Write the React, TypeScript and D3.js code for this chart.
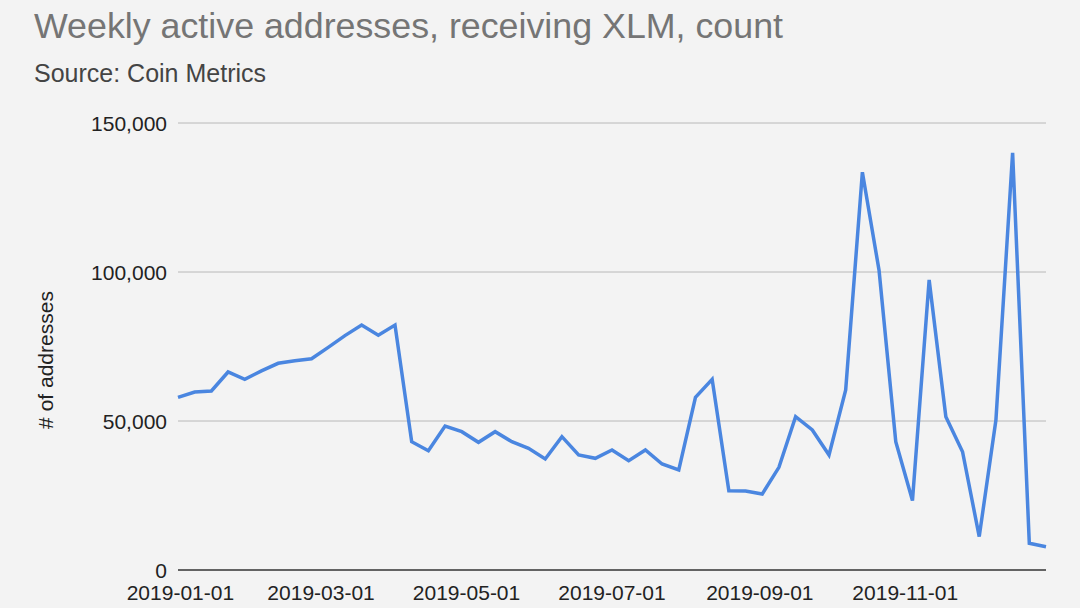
import * as d3 from "d3";
import { useEffect, useRef } from "react";

// weekly points, Mondays from 2018-12-31 to 2019-12-30
const weeks: Date[] = d3.timeMonday.range(new Date(2018, 11, 31), new Date(2019, 11, 31));

const addresses: number[] = [
  57950, 59740, 60070, 66450, 64000, 66800, 69360, 70250, 70900, 74700,
  78650, 82200, 78760, 82200, 43050, 40040, 48330, 46420, 42850, 46420,
  43050, 40830, 37250, 44740, 38590, 37480, 40270, 36690, 40270, 35570,
  33560, 57950, 64000, 26620, 26500, 25500, 34460, 51450, 46980, 38590,
  60400, 133500, 100500, 43050, 23300, 97320, 51450, 39700, 11200, 50340,
  140000, 8950, 7830,
];

const xTickLabels = ["2019-01-01", "2019-03-01", "2019-05-01", "2019-07-01", "2019-09-01", "2019-11-01"];
const yTicks = [0, 50000, 100000, 150000];

const title = "Weekly active addresses, receiving XLM, count";
const subtitle = "Source: Coin Metrics";
const yTitle = "# of addresses";

const App = () => {
  const svgRef = useRef<SVGSVGElement | null>(null);
  const w = 1080;
  const h = 608;
  const m = { top: 123, right: 34, bottom: 38, left: 178 };

  useEffect(() => {
    if (!svgRef.current) return;
    const svg = d3.select(svgRef.current);
    svg.selectAll("*").remove();

    const font = "'Liberation Sans', Arial, sans-serif";

    svg.append("rect").attr("width", w).attr("height", h).attr("fill", "#f3f3f3");

    const x = d3.scaleTime()
      .domain([weeks[0], weeks[weeks.length - 1]])
      .range([m.left, w - m.right]);
    const y = d3.scaleLinear()
      .domain([0, 150000])
      .range([h - m.bottom, m.top]);

    // gridlines
    svg.append("g")
      .selectAll("line")
      .data(yTicks.filter(d => d !== 0))
      .enter().append("line")
      .attr("x1", m.left)
      .attr("x2", w - m.right)
      .attr("y1", d => y(d))
      .attr("y2", d => y(d))
      .attr("stroke", "#b8b8b8")
      .attr("stroke-width", 1);

    // y labels
    const fmt = d3.format(",");
    svg.append("g")
      .selectAll("text")
      .data(yTicks)
      .enter().append("text")
      .attr("x", 167)
      .attr("y", d => y(d))
      .attr("dy", "0.36em")
      .attr("text-anchor", "end")
      .attr("font-family", font)
      .attr("font-size", 21)
      .attr("fill", "#222")
      .text(d => fmt(d));

    // baseline
    svg.append("line")
      .attr("x1", m.left)
      .attr("x2", w - m.right)
      .attr("y1", y(0))
      .attr("y2", y(0))
      .attr("stroke", "#333")
      .attr("stroke-width", 1.5);

    // x labels
    const parse = d3.timeParse("%Y-%m-%d");
    svg.append("g")
      .selectAll("text")
      .data(xTickLabels)
      .enter().append("text")
      .attr("x", d => x(parse(d)!))
      .attr("y", 600)
      .attr("text-anchor", "middle")
      .attr("font-family", font)
      .attr("font-size", 21)
      .attr("fill", "#222")
      .text(d => d);

    // line
    const line = d3.line<number>()
      .x((_, i) => x(weeks[i]))
      .y(d => y(d));
    svg.append("path")
      .datum(addresses)
      .attr("d", line)
      .attr("fill", "none")
      .attr("stroke", "#4a86e0")
      .attr("stroke-width", 3.5)
      .attr("stroke-linejoin", "miter");

    // titles
    svg.append("text")
      .attr("x", 34)
      .attr("y", 38)
      .attr("font-family", font)
      .attr("font-size", 35)
      .attr("textLength", 749)
      .attr("lengthAdjust", "spacingAndGlyphs")
      .attr("fill", "#757575")
      .text(title);

    svg.append("text")
      .attr("x", 34)
      .attr("y", 82)
      .attr("font-family", font)
      .attr("font-size", 25)
      .attr("fill", "#444")
      .text(subtitle);

    svg.append("text")
      .attr("transform", `translate(53, 360) rotate(-90)`)
      .attr("text-anchor", "middle")
      .attr("font-family", font)
      .attr("font-size", 21)
      .attr("fill", "#222")
      .text(yTitle);
  }, []);

  return (
    <svg
      ref={svgRef}
      width={w}
      height={h}
      style={{ position: "absolute", left: 0, top: 0, display: "block" }}
    ></svg>
  );
};

export default App;
